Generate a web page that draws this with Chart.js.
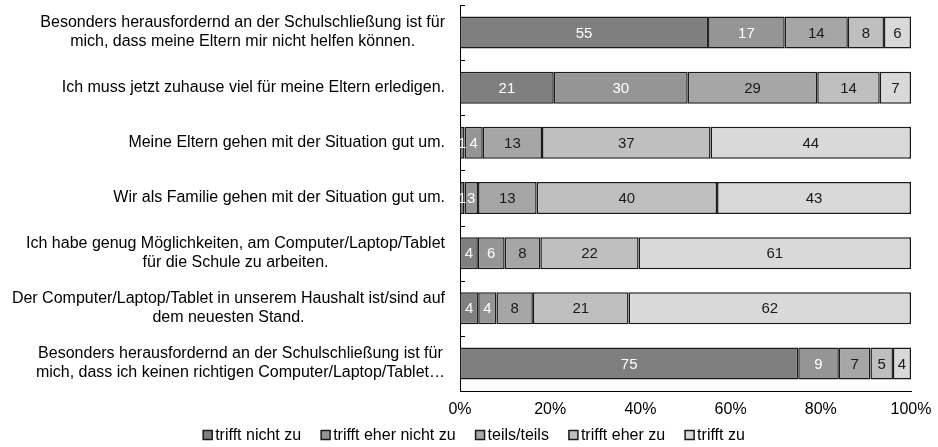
<!DOCTYPE html>
<html>
<head>
<meta charset="utf-8">
<script src="https://cdn.jsdelivr.net/npm/chart.js@4.4.1/dist/chart.umd.min.js"></script>
<style>
  html,body{margin:0;padding:0;background:#fff;overflow:hidden;}
  #wrap{position:relative;width:938px;height:447px;}
</style>
</head>
<body>
<div id="wrap"><canvas id="c"></canvas></div>
<script>
/* ====== DATA ====== */
const categories = [
  ['Besonders herausfordernd an der Schulschließung ist für','mich, dass meine Eltern mir nicht helfen können.'],
  'Ich muss jetzt zuhause viel für meine Eltern erledigen.',
  'Meine Eltern gehen mit der Situation gut um.',
  'Wir als Familie gehen mit der Situation gut um.',
  ['Ich habe genug Möglichkeiten, am Computer/Laptop/Tablet','für die Schule zu arbeiten.'],
  ['Der Computer/Laptop/Tablet in unserem Haushalt ist/sind auf','dem neuesten Stand.'],
  ['Besonders herausfordernd an der Schulschließung ist für','mich, dass ich keinen richtigen Computer/Laptop/Tablet…']
];
const seriesNames = ['trifft nicht zu','trifft eher nicht zu','teils/teils','trifft eher zu','trifft zu'];
const trifftNichtZu     = [55, 21,  1,  1,  4,  4, 75];
const trifftEherNichtZu = [17, 30,  4,  3,  6,  4,  9];
const teilsTeils        = [14, 29, 13, 13,  8,  8,  7];
const trifftEherZu      = [ 8, 14, 37, 40, 22, 21,  5];
const trifftZu          = [ 6,  7, 44, 43, 61, 62,  4];
const xTicks = [0, 20, 40, 60, 80, 100];

/* ====== STYLE ====== */
const FONT = "'Liberation Sans', Arial, sans-serif";
const fills = ['#7f7f7f','#959595','#a6a6a6','#bfbfbf','#d9d9d9'];
const labelColors = ['#ffffff','#ffffff','#1a1a1a','#1a1a1a','#1a1a1a'];
const raw = [trifftNichtZu, trifftEherNichtZu, teilsTeils, trifftEherZu, trifftZu];
// Excel 100% stacked: every row scaled to its own total
const totals = categories.map((_,i)=> raw.reduce((s,a)=>s+a[i],0));
const pct = raw.map(a=> a.map((v,i)=> v/totals[i]*100));

/* ====== PLUGINS ====== */
const valueLabels = {
  id:'valueLabels',
  afterDatasetsDraw(chart){
    const ctx=chart.ctx;
    ctx.save();
    ctx.font='15px '+FONT; ctx.textAlign='center'; ctx.textBaseline='middle';
    chart.data.datasets.forEach((ds,di)=>{
      chart.getDatasetMeta(di).data.forEach((bar,i)=>{
        ctx.fillStyle=labelColors[di];
        ctx.fillText(String(raw[di][i]), (bar.x+bar.base)/2, bar.y+1);
      });
    });
    ctx.restore();
  }
};
// y labels: block right-aligned, lines centred inside the block; small inner ticks
const catLabels = {
  id:'catLabels',
  afterDraw(chart){
    const ctx=chart.ctx, y=chart.scales.y, left=chart.chartArea.left;
    ctx.save();
    ctx.font='16px '+FONT; ctx.fillStyle='#000'; ctx.textBaseline='middle'; ctx.textAlign='center';
    const lh=19, right=left-15;
    categories.forEach((c,i)=>{
      const lines=Array.isArray(c)?c:[c];
      const w=Math.max(...lines.map(l=>ctx.measureText(l).width));
      const cy=y.getPixelForValue(i), cx=right-w/2;
      lines.forEach((l,k)=> ctx.fillText(l, cx, cy+(k-(lines.length-1)/2)*lh));
    });
    ctx.strokeStyle='#000'; ctx.lineWidth=1;
    const half=(y.getPixelForValue(1)-y.getPixelForValue(0))/2;
    categories.forEach((_,i)=>{
      const ty=Math.round(y.getPixelForValue(i)-half)+0.5;
      ctx.beginPath(); ctx.moveTo(left,ty); ctx.lineTo(left+5,ty); ctx.stroke();
    });
    ctx.restore();
  }
};
// Excel-like legend: tight box/text gap, wider item gap
const excelLegend = {
  id:'excelLegend',
  afterDraw(chart, args, o){
    const ctx=chart.ctx, ds=chart.data.datasets;
    ctx.save();
    ctx.font='16px '+FONT; ctx.textBaseline='middle'; ctx.textAlign='left';
    const widths=ds.map(d=> o.box+o.gap+ctx.measureText(d.label).width);
    const total=widths.reduce((a,b)=>a+b,0)+o.spacing*(ds.length-1);
    let x=o.centerX-total/2; const y=chart.height-o.fromBottom;
    ds.forEach((d,i)=>{
      ctx.fillStyle=d.backgroundColor; ctx.fillRect(x,y-o.box/2,o.box,o.box);
      ctx.strokeStyle='#1a1a1a'; ctx.lineWidth=1.5; ctx.strokeRect(x,y-o.box/2,o.box,o.box);
      ctx.fillStyle='#000'; ctx.fillText(d.label, x+o.box+o.gap, y+1);
      x+=widths[i]+o.spacing;
    });
    ctx.restore();
  }
};

/* ====== CHART ====== */
new Chart(document.getElementById('c'),{
  type:'bar',
  data:{
    labels:categories,
    datasets:seriesNames.map((n,i)=>({
      label:n, data:pct[i], backgroundColor:fills[i],
      borderColor:'#1a1a1a', borderWidth:1.5, borderSkipped:false,
      barPercentage:0.58, categoryPercentage:1
    }))
  },
  options:{
    indexAxis:'y', responsive:true, maintainAspectRatio:false, animation:false,
    layout:{padding:{top:5,right:27,left:0,bottom:24}},
    plugins:{
      legend:{display:false},
      tooltip:{enabled:false},
      excelLegend:{box:9, gap:3, spacing:20, centerX:474, fromBottom:12}
    },
    scales:{
      x:{
        stacked:true, min:0, max:100,
        afterBuildTicks:s=>{ s.ticks=xTicks.map(v=>({value:v})); },
        afterFit:s=>{ s.height=32; s.paddingRight=0; s.paddingLeft=0; },
        ticks:{font:{family:FONT,size:16}, color:'#000', padding:9, callback:v=>v+'%', maxRotation:0},
        grid:{display:false, drawTicks:false},
        border:{display:true, color:'#000', width:1}
      },
      y:{
        stacked:true,
        afterFit:s=>{ s.width=460; },
        ticks:{display:false},
        grid:{display:false, drawTicks:false},
        border:{display:true, color:'#000', width:1}
      }
    }
  },
  plugins:[valueLabels, catLabels, excelLegend]
});
</script>
</body>
</html>
